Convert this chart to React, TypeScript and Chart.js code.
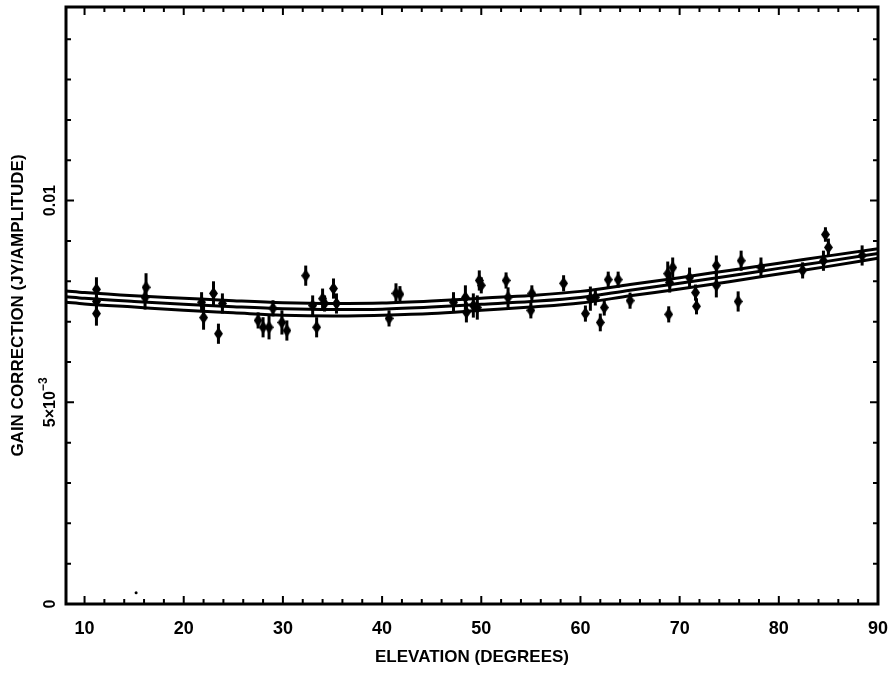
import React, { useEffect, useRef } from "react";
import { Chart, registerables } from "chart.js";

Chart.register(...registerables);

// ---- data ----
const POINT_ELEV = [
  11.2, 11.2, 11.2, 16.2, 16.1, 21.8, 22.0, 23.0, 23.5, 23.9,
  27.5, 28.0, 28.6, 29.0, 29.9, 30.4, 32.3, 33.0, 33.4, 34.0,
  34.2, 35.1, 35.4, 41.4, 41.8, 40.7, 47.2, 48.4, 48.5, 49.2,
  49.6, 49.8, 50.0, 52.5, 52.7, 55.1, 55.0, 58.3, 60.5, 61.0,
  61.5, 62.0, 62.4, 62.8, 63.8, 65.0, 68.8, 69.3, 69.0, 68.9,
  71.0, 71.6, 71.7, 73.7, 73.7, 75.9, 76.2, 78.2, 82.4, 84.7,
  85.0, 84.5, 88.4,
];
const POINT_GAIN = [
  0.0078, 0.0075, 0.0072, 0.00785, 0.0076, 0.00748, 0.0071, 0.0077, 0.0067, 0.00745,
  0.00703, 0.00686, 0.00686, 0.00733, 0.00698, 0.00678, 0.00814, 0.0074, 0.00686, 0.00757,
  0.00745, 0.00782, 0.00745, 0.0077, 0.00768, 0.00708, 0.00748, 0.0076, 0.00723, 0.0074,
  0.00735, 0.00802, 0.0079, 0.00802, 0.0076, 0.0077, 0.00728, 0.00795, 0.0072, 0.00757,
  0.0076, 0.00698, 0.00735, 0.00804, 0.00804, 0.00752, 0.00819, 0.00834, 0.00797, 0.00718,
  0.00809, 0.00772, 0.00738, 0.00839, 0.0079, 0.0075, 0.00851, 0.00834, 0.00827, 0.00916,
  0.00884, 0.00851, 0.00864,
];
const POINT_ERR = [
  0.0003, 0.0004, 0.0003, 0.00035, 0.0003, 0.00025, 0.0003, 0.0003, 0.00025, 0.00025,
  0.0002, 0.00025, 0.0003, 0.0002, 0.0003, 0.00025, 0.00025, 0.00025, 0.00025, 0.00025,
  0.0002, 0.00025, 0.00025, 0.00025, 0.0002, 0.0002, 0.00025, 0.0003, 0.00025, 0.0003,
  0.0003, 0.00025, 0.0002, 0.0002, 0.00025, 0.0002, 0.0002, 0.0002, 0.0002, 0.0003,
  0.0002, 0.00022, 0.0002, 0.0002, 0.0002, 0.0002, 0.0003, 0.00025, 0.00025, 0.0002,
  0.00025, 0.0002, 0.0002, 0.00025, 0.0003, 0.00025, 0.00025, 0.00025, 0.0002, 0.00018,
  0.00022, 0.00025, 0.00025,
];
const STRAY_ELEV = [15.2];
const STRAY_GAIN = [0.00028];

const CURVE_ELEV = [8.13, 10, 15, 20, 25, 30, 35, 40, 45, 50, 55, 60, 65, 70, 75, 80, 85, 90];
const CURVE_MID = [
  0.00762, 0.00758, 0.0075, 0.00743, 0.00737, 0.00732, 0.0073, 0.00731, 0.00736,
  0.00743, 0.0075, 0.0076, 0.00778, 0.00795, 0.00813, 0.00832, 0.0085, 0.00869,
];
const CURVE_UPPER = [
  0.00776, 0.00772, 0.00764, 0.00758, 0.00752, 0.00747, 0.00745, 0.00746, 0.00751,
  0.00758, 0.00765, 0.00775, 0.00792, 0.00809, 0.00827, 0.00845, 0.00863, 0.00881,
];
const CURVE_LOWER = [
  0.00748, 0.00744, 0.00736, 0.00728, 0.00722, 0.00716, 0.00714, 0.00716, 0.0072,
  0.00728, 0.00736, 0.00746, 0.00764, 0.00781, 0.00799, 0.00818, 0.00837, 0.00857,
];

const X_MIN = 8.13;
const X_MAX = 90;
const Y_MIN = 0;
const Y_MAX = 0.0148;
const X_TICKS = [10, 20, 30, 40, 50, 60, 70, 80, 90];
const X_MINOR_STEP = 2;
const Y_TICKS = [0, 0.005, 0.01];
const Y_TICK_LABELS = ["0", "5×10^−3", "0.01"];
const Y_MINOR_STEP = 0.001;
const X_TITLE = "ELEVATION (DEGREES)";
const Y_TITLE = "GAIN CORRECTION (JY/AMPLITUDE)";

const FONT = "'Liberation Sans', Arial, sans-serif";

function makeDiamond(): HTMLCanvasElement {
  const c = document.createElement("canvas");
  c.width = 9;
  c.height = 13;
  const g = c.getContext("2d")!;
  g.fillStyle = "#000";
  g.beginPath();
  g.moveTo(4.5, 0);
  g.lineTo(9, 6.5);
  g.lineTo(4.5, 13);
  g.lineTo(0, 6.5);
  g.closePath();
  g.fill();
  return c;
}

const errorBarPlugin = {
  id: "errorBars",
  beforeDatasetsDraw(chart: any) {
    const idx = chart.data.datasets.findIndex((d: any) => d.label === "points");
    if (idx < 0) return;
    const ds = chart.data.datasets[idx];
    const ys = chart.scales.y;
    const xs = chart.scales.x;
    const ctx = chart.ctx;
    ctx.save();
    ctx.strokeStyle = "#000";
    ctx.lineWidth = 3;
    ds.data.forEach((d: any) => {
      const px = xs.getPixelForValue(d.x);
      ctx.beginPath();
      ctx.moveTo(px, ys.getPixelForValue(d.y + d.err));
      ctx.lineTo(px, ys.getPixelForValue(d.y - d.err));
      ctx.stroke();
    });
    ctx.restore();
  },
};

const framePlugin = {
  id: "frame",
  afterDraw(chart: any) {
    const { ctx, chartArea: a } = chart;
    const xs = chart.scales.x;
    const ys = chart.scales.y;
    ctx.save();
    ctx.strokeStyle = "#000";
    ctx.lineWidth = 2;
    const major = 8;
    const minor = 5;
    // x ticks (bottom & top)
    const xStart = Math.ceil(X_MIN / X_MINOR_STEP) * X_MINOR_STEP;
    for (let v = xStart; v <= X_MAX + 1e-9; v += X_MINOR_STEP) {
      const isMajor = X_TICKS.includes(v);
      const len = isMajor ? major : minor;
      const px = xs.getPixelForValue(v);
      ctx.beginPath();
      ctx.moveTo(px, a.bottom);
      ctx.lineTo(px, a.bottom - len);
      ctx.moveTo(px, a.top);
      ctx.lineTo(px, a.top + len);
      ctx.stroke();
    }
    // y ticks (left & right)
    for (let k = 0; k * Y_MINOR_STEP <= Y_MAX + 1e-12; k++) {
      const v = k * Y_MINOR_STEP;
      const isMajor = Y_TICKS.some((t) => Math.abs(t - v) < 1e-9);
      const len = isMajor ? major : minor;
      const py = ys.getPixelForValue(v);
      ctx.beginPath();
      ctx.moveTo(a.left, py);
      ctx.lineTo(a.left + len, py);
      ctx.moveTo(a.right, py);
      ctx.lineTo(a.right - len, py);
      ctx.stroke();
    }
    // frame
    ctx.lineWidth = 3;
    ctx.strokeRect(a.left, a.top, a.right - a.left, a.bottom - a.top);

    // rotated y tick labels
    ctx.fillStyle = "#000";
    Y_TICKS.forEach((v, i) => {
      const py = ys.getPixelForValue(v);
      const [base, sup] = Y_TICK_LABELS[i].split("^");
      ctx.save();
      ctx.translate(55, py);
      ctx.rotate(-Math.PI / 2);
      ctx.textBaseline = "alphabetic";
      ctx.font = `bold 16px ${FONT}`;
      const wb = ctx.measureText(base).width;
      let ws = 0;
      if (sup) {
        ctx.font = `bold 12px ${FONT}`;
        ws = ctx.measureText(sup).width;
      }
      const total = wb + ws;
      ctx.font = `bold 16px ${FONT}`;
      ctx.textAlign = "left";
      ctx.fillText(base, -total / 2, 0);
      if (sup) {
        ctx.font = `bold 12px ${FONT}`;
        ctx.fillText(sup, -total / 2 + wb, -8);
      }
      ctx.restore();
    });
    ctx.restore();
  },
};

export default function App() {
  const ref = useRef<HTMLCanvasElement>(null);
  useEffect(() => {
    if (!ref.current) return;
    const diamond = makeDiamond();
    const lineDs = (data: number[], label: string) => ({
      label,
      type: "line" as const,
      data: CURVE_ELEV.map((x, i) => ({ x, y: data[i] })),
      borderColor: "#000",
      borderWidth: 3,
      pointRadius: 0,
      showLine: true,
      fill: false,
      cubicInterpolationMode: "monotone" as const,
    });
    const chart = new Chart(ref.current, {
      type: "scatter",
      data: {
        datasets: [
          lineDs(CURVE_UPPER, "upper"),
          lineDs(CURVE_MID, "fit"),
          lineDs(CURVE_LOWER, "lower"),
          {
            label: "points",
            data: POINT_ELEV.map((x, i) => ({ x, y: POINT_GAIN[i], err: POINT_ERR[i] })) as any,
            pointStyle: diamond as any,
            pointRadius: 5,
            backgroundColor: "#000",
            borderColor: "#000",
          },
          {
            label: "stray",
            data: STRAY_ELEV.map((x, i) => ({ x, y: STRAY_GAIN[i] })),
            pointStyle: "circle",
            pointRadius: 1.5,
            backgroundColor: "#000",
            borderColor: "#000",
            borderWidth: 0,
          },
        ],
      },
      options: {
        animation: false,
        responsive: false,
        events: [],
        layout: { padding: { top: 7, right: 17, left: 0, bottom: 0 } },
        plugins: { legend: { display: false }, tooltip: { enabled: false } },
        scales: {
          x: {
            type: "linear",
            min: X_MIN,
            max: X_MAX,
            grid: { display: false, drawTicks: false },
            border: { display: false },
            afterBuildTicks: (s: any) => {
              s.ticks = X_TICKS.map((v) => ({ value: v }));
            },
            ticks: {
              color: "#000",
              font: { family: FONT, size: 18, weight: "bold" },
              padding: 14,
              maxRotation: 0,
              autoSkip: false,
            },
            title: {
              display: true,
              text: X_TITLE,
              color: "#000",
              font: { family: FONT, size: 17, weight: "bold" },
              padding: { top: 0, bottom: 8 },
            },
            afterFit: (s: any) => {
              s.height = 72;
              s.paddingRight = 0;
              s.paddingLeft = 0;
            },
          },
          y: {
            type: "linear",
            min: Y_MIN,
            max: Y_MAX,
            grid: { display: false, drawTicks: false },
            border: { display: false },
            ticks: { display: false },
            title: {
              display: true,
              text: Y_TITLE,
              color: "#000",
              font: { family: FONT, size: 17, weight: "bold" },
              padding: { top: 8, bottom: 0 },
            },
            afterFit: (s: any) => {
              s.width = 66;
              s.paddingTop = 0;
              s.paddingBottom = 0;
            },
          },
        },
      },
      plugins: [errorBarPlugin, framePlugin],
    } as any);
    return () => chart.destroy();
  }, []);
  return (
    <div style={{ position: "fixed", left: 0, top: 0, width: 895, height: 676, background: "#fff" }}>
      <canvas ref={ref} width={895} height={676} style={{ display: "block" }} />
    </div>
  );
}
